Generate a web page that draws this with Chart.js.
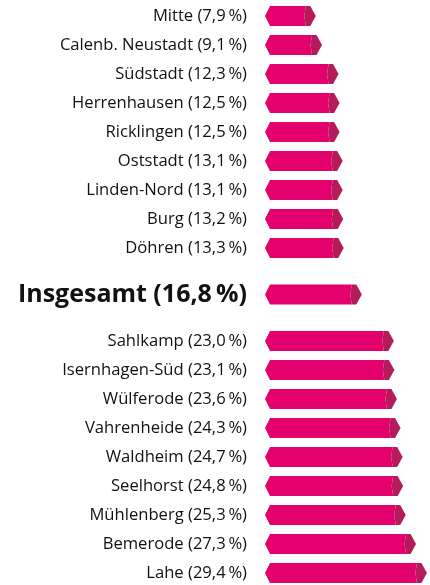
<!DOCTYPE html>
<html lang="de">
<head>
<meta charset="UTF-8">
<title>Stadtteile Hannover</title>
<script src="https://cdn.jsdelivr.net/npm/chart.js"></script>
<style>
  html, body { margin: 0; padding: 0; background: #fff; }
  .wrap { position: relative; width: 430px; height: 585px; }
</style>
</head>
<body>
<div class="wrap"><canvas id="chart"></canvas></div>
<script>
// Stadtteile mit niedrigem Anteil
const topNames = ["Mitte", "Calenb. Neustadt", "Südstadt", "Herrenhausen", "Ricklingen", "Oststadt", "Linden-Nord", "Burg", "Döhren"];
const topValues = [7.9, 9.1, 12.3, 12.5, 12.5, 13.1, 13.1, 13.2, 13.3];
// Durchschnitt
const totalName = "Insgesamt";
const totalValue = 16.8;
// Stadtteile mit hohem Anteil
const bottomNames = ["Sahlkamp", "Isernhagen-Süd", "Wülferode", "Vahrenheide", "Waldheim", "Seelhorst", "Mühlenberg", "Bemerode", "Lahe"];
const bottomValues = [23.0, 23.1, 23.6, 24.3, 24.7, 24.8, 25.3, 27.3, 29.4];

const GAP = 1.6; // Abstand vor/nach "Insgesamt" in Zeilen

// Zeilen zusammenbauen
const names = [...topNames, totalName, ...bottomNames];
const values = [...topValues, totalValue, ...bottomValues];
const totalIndex = topNames.length;
const positions = names.map((n, i) => {
  if (i < totalIndex) return i;
  if (i === totalIndex) return (totalIndex - 1) + GAP;
  return (totalIndex - 1) + 2 * GAP + (i - totalIndex - 1);
});
const fmt = v => v.toFixed(1).replace(".", ",") + "\u2009%";
const labels = names.map((n, i) => n + " (" + fmt(values[i]) + ")");

const PINK = "#e4006d";
const DARK = "#b51a5b";

// Pfeilförmige Balken statt Rechtecke
const arrowBars = {
  id: "arrowBars",
  afterDatasetsDraw(chart) {
    const ctx = chart.ctx;
    ctx.save();
    chart.getDatasetMeta(0).data.forEach(el => {
      const { x, y, base, height } = el.getProps(["x", "y", "base", "height"], true);
      const top = y - height / 2, bot = y + height / 2;
      ctx.beginPath();
      ctx.moveTo(base - 10, y);
      ctx.lineTo(base - 5, top);
      ctx.lineTo(x - 10, top);
      ctx.lineTo(x - 11.5, y);
      ctx.lineTo(x - 10, bot);
      ctx.lineTo(base - 5, bot);
      ctx.closePath();
      ctx.fillStyle = PINK;
      ctx.fill();
      ctx.beginPath();
      ctx.moveTo(x - 10, top);
      ctx.lineTo(x - 5.5, top);
      ctx.lineTo(x, y);
      ctx.lineTo(x - 5.5, bot);
      ctx.lineTo(x - 10, bot);
      ctx.lineTo(x - 11.5, y);
      ctx.closePath();
      ctx.fillStyle = DARK;
      ctx.fill();
    });
    ctx.restore();
  }
};

new Chart(document.getElementById("chart"), {
  type: "bar",
  data: {
    datasets: [{
      data: values.map((v, i) => ({ x: v, y: positions[i] })),
      backgroundColor: "rgba(0,0,0,0)",
      barThickness: 20
    }]
  },
  options: {
    indexAxis: "y",
    responsive: true,
    maintainAspectRatio: false,
    animation: false,
    events: [],
    layout: { padding: 0 },
    plugins: { legend: { display: false }, tooltip: { enabled: false } },
    scales: {
      x: { type: "linear", min: 0, max: 30, display: false },
      y: {
        type: "linear",
        reverse: true,
        offset: false,
        min: -0.55,
        max: positions[positions.length - 1] + 0.41,
        grid: { display: false, drawTicks: false, offset: false },
        border: { display: false },
        afterBuildTicks: axis => { axis.ticks = positions.map(p => ({ value: p })); },
        afterFit: axis => { axis.width = 275; axis.paddingTop = 0; axis.paddingBottom = 0; },
        ticks: {
          autoSkip: false,
          padding: 28,
          color: "#111",
          callback: (value, index) => labels[index],
          font: c => c.index === totalIndex
            ? { family: "'Open Sans'", size: 25, weight: "bold" }
            : { family: "'Open Sans'", size: 16.6 }
        }
      }
    }
  },
  plugins: [arrowBars]
});
</script>
</body>
</html>
